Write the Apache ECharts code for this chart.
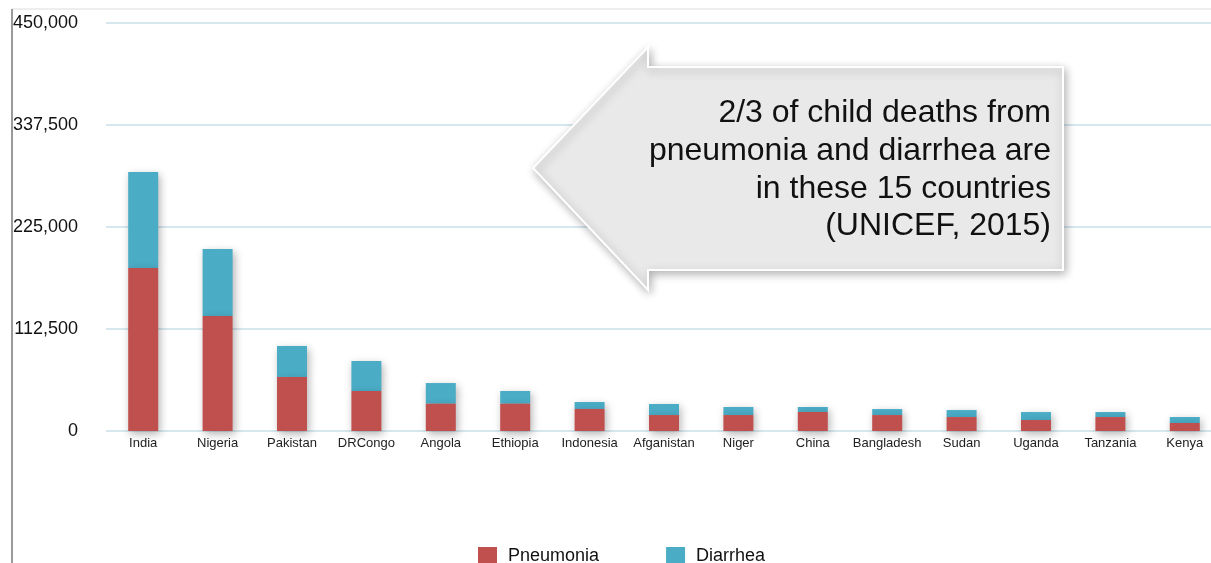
<!DOCTYPE html>
<html>
<head>
<meta charset="utf-8">
<script src="https://cdn.jsdelivr.net/npm/echarts@6/dist/echarts.min.js"></script>
<style>
  html, body { margin: 0; padding: 0; background: #fff; }
  #chart { width: 1211px; height: 563px; }
</style>
</head>
<body>
<div id="chart"></div>
<script>
var countries = ['India', 'Nigeria', 'Pakistan', 'DRCongo', 'Angola', 'Ethiopia', 'Indonesia',
    'Afganistan', 'Niger', 'China', 'Bangladesh', 'Sudan', 'Uganda', 'Tanzania', 'Kenya'];
var pneumonia = [179800, 126800, 59600, 44100, 30100, 30100, 24300, 17600, 17600, 21000, 17600, 15400, 12100, 15400, 8800];
var diarrhea = [105900, 73900, 34200, 33100, 22800, 14000, 7700, 12200, 8900, 5500, 6600, 7700, 8800, 5500, 6600];
var yTicks = [0, 112500, 225000, 337500, 450000];
var calloutLines = ['2/3 of child deaths from', 'pneumonia and diarrhea are', 'in these 15 countries', '(UNICEF, 2015)'];

var FONT = '"Liberation Sans", Arial, Helvetica, sans-serif';

var chart = echarts.init(document.getElementById('chart'));

var barShadow = {
    shadowBlur: 8,
    shadowColor: 'rgba(0,0,0,0.3)',
    shadowOffsetX: 2,
    shadowOffsetY: 3
};

chart.setOption({
    animation: false,
    textStyle: { fontFamily: FONT },
    grid: { left: 106, top: 23, width: 1116, bottom: 132, outerBoundsMode: 'none' },
    legend: {
        left: 478,
        top: 547,
        padding: 0,
        itemWidth: 19,
        itemHeight: 18,
        itemGap: 67,
        icon: 'rect',
        textStyle: { fontSize: 18, color: '#111', fontFamily: FONT, padding: [0, 0, 0, 6] },
        data: ['Pneumonia', 'Diarrhea']
    },
    xAxis: {
        type: 'category',
        data: countries,
        axisLine: { show: false },
        axisTick: { show: false },
        axisLabel: { fontSize: 13, color: '#222', margin: 6, interval: 0 }
    },
    yAxis: {
        type: 'value',
        min: yTicks[0],
        max: yTicks[yTicks.length - 1],
        interval: yTicks[1] - yTicks[0],
        axisLine: { show: false },
        axisTick: { show: false },
        splitLine: { lineStyle: { color: '#d6e8ee', width: 2 } },
        axisLabel: {
            fontSize: 18,
            color: '#111',
            margin: 28,
            formatter: function (v) { return v.toLocaleString('en-US'); }
        }
    },
    series: [
        {
            name: 'Pneumonia',
            type: 'bar',
            stack: 'total',
            barWidth: 30,
            z: 3,
            data: pneumonia,
            itemStyle: Object.assign({ color: '#c0504d' }, barShadow)
        },
        {
            name: 'Diarrhea',
            type: 'bar',
            stack: 'total',
            barWidth: 30,
            z: 2,
            data: diarrhea,
            itemStyle: Object.assign({ color: '#4bacc6' }, barShadow)
        }
    ],
    graphic: [
        {
            type: 'line',
            shape: { x1: 12, y1: 9, x2: 1211, y2: 9 },
            style: { stroke: '#dddddd', lineWidth: 1 },
            z: 0
        },
        {
            type: 'line',
            shape: { x1: 12, y1: 9, x2: 12, y2: 563 },
            style: { stroke: '#9a9a9a', lineWidth: 2 },
            z: 0
        },
        {
            type: 'polygon',
            shape: {
                points: [[533, 168], [648, 47], [648, 67], [1063, 67], [1063, 270], [648, 270], [648, 290]]
            },
            style: {
                fill: '#e9e9e9',
                stroke: '#ffffff',
                lineWidth: 2,
                shadowBlur: 10,
                shadowColor: 'rgba(0,0,0,0.3)',
                shadowOffsetX: 2,
                shadowOffsetY: 3
            },
            z: 10
        },
        {
            type: 'text',
            x: 1051,
            y: 170,
            style: {
                text: calloutLines.join('\n'),
                fill: '#111',
                font: '32px ' + FONT,
                align: 'right',
                verticalAlign: 'middle',
                lineHeight: 37.7
            },
            z: 11
        }
    ]
});
</script>
</body>
</html>
